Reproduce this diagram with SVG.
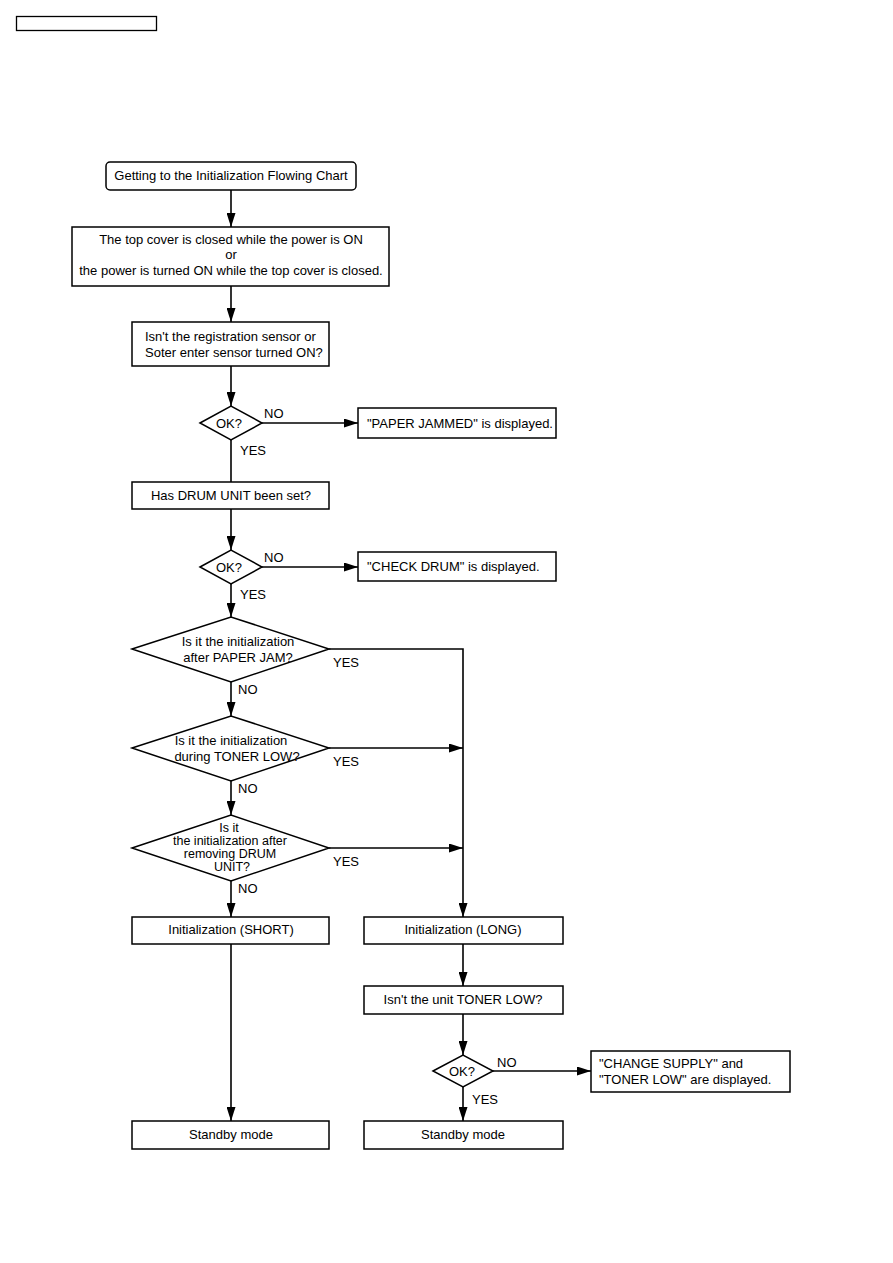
<svg xmlns="http://www.w3.org/2000/svg" width="893" height="1263" viewBox="0 0 893 1263">
<defs>
<marker id="ah" viewBox="0 0 14 9" refX="14" refY="4.5" markerWidth="14" markerHeight="9" markerUnits="userSpaceOnUse" orient="auto">
<path d="M0,0 L14,4.5 L0,9 z" fill="#000"/>
</marker>
<style>
.b{fill:#fff;stroke:#000;stroke-width:1.5}
.t{font-family:"Liberation Sans",Arial,sans-serif;font-size:13px;fill:#000;text-anchor:middle}
.l{font-family:"Liberation Sans",Arial,sans-serif;font-size:13px;fill:#000}
.s{font-size:12.5px}
.c{fill:none;stroke:#000;stroke-width:1.6}
</style>
</defs>
<rect width="893" height="1263" fill="#fff"/>
<rect x="16.5" y="16.5" width="140" height="14" fill="none" stroke="#000" stroke-width="1.3"/>
<g id="connectors">
<line class="c" x1="231" y1="190" x2="231" y2="227" marker-end="url(#ah)"/>
<line class="c" x1="231" y1="286" x2="231" y2="322" marker-end="url(#ah)"/>
<line class="c" x1="231" y1="366" x2="231" y2="406" marker-end="url(#ah)"/>
<line class="c" x1="262" y1="423" x2="358" y2="423" marker-end="url(#ah)"/>
<line class="c" x1="231" y1="440" x2="231" y2="482"/>
<line class="c" x1="231" y1="509" x2="231" y2="550" marker-end="url(#ah)"/>
<line class="c" x1="262" y1="567" x2="358" y2="567" marker-end="url(#ah)"/>
<line class="c" x1="231" y1="584" x2="231" y2="617" marker-end="url(#ah)"/>
<polyline class="c" points="329,649 463,649 463,917" marker-end="url(#ah)"/>
<line class="c" x1="231" y1="682" x2="231" y2="716" marker-end="url(#ah)"/>
<line class="c" x1="329" y1="748" x2="463" y2="748" marker-end="url(#ah)"/>
<line class="c" x1="231" y1="781" x2="231" y2="815" marker-end="url(#ah)"/>
<line class="c" x1="329" y1="848" x2="463" y2="848" marker-end="url(#ah)"/>
<line class="c" x1="231" y1="881" x2="231" y2="917" marker-end="url(#ah)"/>
<line class="c" x1="231" y1="944" x2="231" y2="1121" marker-end="url(#ah)"/>
<line class="c" x1="463" y1="944" x2="463" y2="986" marker-end="url(#ah)"/>
<line class="c" x1="463" y1="1014" x2="463" y2="1055" marker-end="url(#ah)"/>
<line class="c" x1="493" y1="1071" x2="591" y2="1071" marker-end="url(#ah)"/>
<line class="c" x1="463" y1="1087" x2="463" y2="1121" marker-end="url(#ah)"/>
<text class="l" x="264" y="418">NO</text>
<text class="l" x="240" y="455">YES</text>
<text class="l" x="264" y="562">NO</text>
<text class="l" x="240" y="599">YES</text>
<text class="l" x="333" y="667">YES</text>
<text class="l" x="238" y="694">NO</text>
<text class="l" x="333" y="766">YES</text>
<text class="l" x="238" y="793">NO</text>
<text class="l" x="333" y="866">YES</text>
<text class="l" x="238" y="893">NO</text>
<text class="l" x="497" y="1067">NO</text>
<text class="l" x="472" y="1104">YES</text>
</g>
<g id="start">
<rect class="b" x="106" y="162" width="250" height="28" rx="4"/>
<text class="t" x="231" y="180">Getting to the Initialization Flowing Chart</text>
</g>
<g id="topcover">
<rect class="b" x="72" y="227" width="317" height="59"/>
<text class="t" x="231" y="244">The top cover is closed while the power is ON</text>
<text class="t" x="231" y="259">or</text>
<text class="t" x="231" y="275">the power is turned ON while the top cover is closed.</text>
</g>
<g id="sensor">
<rect class="b" x="132" y="322" width="197" height="44"/>
<text class="l" x="145" y="341">Isn't the registration sensor or</text>
<text class="l" x="145" y="357">Soter enter sensor turned ON?</text>
</g>
<g id="ok1">
<polygon class="b" points="200,423 231,406 262,423 231,440"/>
<text class="t" x="229" y="428">OK?</text>
</g>
<g id="paperjammed">
<rect class="b" x="358" y="408" width="198" height="30"/>
<text class="l" x="367" y="428">"PAPER JAMMED" is displayed.</text>
</g>
<g id="drumset">
<rect class="b" x="132" y="482" width="197" height="27"/>
<text class="t" x="231" y="500">Has DRUM UNIT been set?</text>
</g>
<g id="ok2">
<polygon class="b" points="200,567 231,550 262,567 231,584"/>
<text class="t" x="229" y="572">OK?</text>
</g>
<g id="checkdrum">
<rect class="b" x="358" y="552" width="198" height="29"/>
<text class="l" x="367" y="571">"CHECK DRUM" is displayed.</text>
</g>
<g id="q_paperjam">
<polygon class="b" points="132,649 231,617 329,649 231,682"/>
<text class="t" x="238" y="646">Is it the initialization</text>
<text class="t" x="238" y="662">after PAPER JAM?</text>
</g>
<g id="q_tonerlow">
<polygon class="b" points="132,748 231,716 329,748 231,781"/>
<text class="t" x="231" y="745">Is it the initialization</text>
<text class="t" x="237" y="761">during TONER LOW?</text>
</g>
<g id="q_drum">
<polygon class="b" points="132,848 231,815 329,848 231,881"/>
<text class="t s" x="229" y="832">Is it</text>
<text class="t s" x="230" y="845">the initialization after</text>
<text class="t s" x="230" y="858">removing DRUM</text>
<text class="t s" x="232" y="871">UNIT?</text>
</g>
<g id="init_short">
<rect class="b" x="132" y="917" width="197" height="27"/>
<text class="t" x="231" y="934">Initialization (SHORT)</text>
</g>
<g id="init_long">
<rect class="b" x="364" y="917" width="199" height="27"/>
<text class="t" x="463" y="934">Initialization (LONG)</text>
</g>
<g id="unit_tonerlow">
<rect class="b" x="364" y="986" width="199" height="28"/>
<text class="t" x="463" y="1004">Isn't the unit TONER LOW?</text>
</g>
<g id="ok3">
<polygon class="b" points="433,1071 463,1055 493,1071 463,1087"/>
<text class="t" x="462" y="1076">OK?</text>
</g>
<g id="changesupply">
<rect class="b" x="591" y="1051" width="199" height="41"/>
<text class="l" x="599" y="1068">"CHANGE SUPPLY" and</text>
<text class="l" x="599" y="1084">"TONER LOW" are displayed.</text>
</g>
<g id="standby_left">
<rect class="b" x="132" y="1121" width="197" height="28"/>
<text class="t" x="231" y="1139">Standby mode</text>
</g>
<g id="standby_right">
<rect class="b" x="364" y="1121" width="199" height="28"/>
<text class="t" x="463" y="1139">Standby mode</text>
</g>
</svg>
